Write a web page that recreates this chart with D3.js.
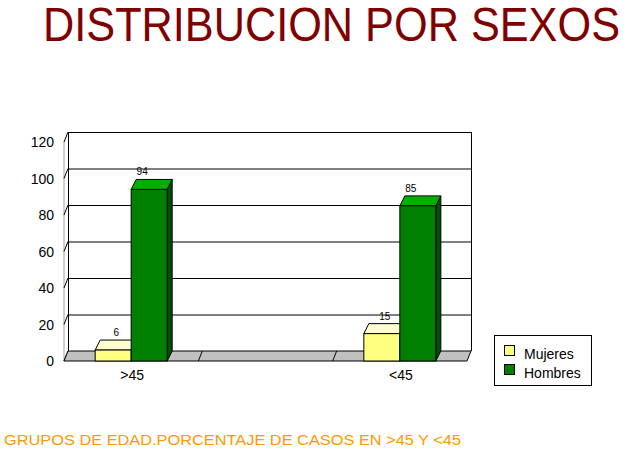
<!DOCTYPE html>
<html><head><meta charset="utf-8">
<script src="https://cdn.jsdelivr.net/npm/d3@7"></script>
<style>body{margin:0;background:#fff}svg{display:block}text{font-family:"Liberation Sans",Arial,sans-serif}</style>
</head><body>
<svg id="c" width="633" height="459"></svg>
<script>
const categories = [">45", "", "<45"];
const seriesNames = ["Mujeres", "Hombres"];
const mujeres = [6, null, 15];
const hombres = [94, null, 85];
const yTicks = [0, 20, 40, 60, 80, 100, 120];
const titleText = "DISTRIBUCION POR SEXOS";
const subtitleText = "GRUPOS DE EDAD.PORCENTAJE DE CASOS EN >45 Y <45";

const svg = d3.select("#c");
const colors = {
  Mujeres: {front: "#FFFF80", top: "#FFFFD0", side: "#C0C060"},
  Hombres: {front: "#008000", top: "#00B000", side: "#005000"}
};
const fdx = 4, fdy = 10;   // floor depth
const bdx = 5, bdy = 10;   // bar depth
const left = 64, right = 467, base = 361;

const y = d3.scaleLinear().domain([0, 120]).range([base, base - 219]);
const x = d3.scaleBand().domain(categories).range([left, right]).paddingInner(0.464).paddingOuter(0.232);
const x1 = d3.scaleBand().domain(seriesNames).range([0, x.bandwidth()]);
const step = x.step();

// title
svg.append("text").attr("x", 43).attr("y", 41).attr("font-size", 48).attr("fill", "#800000")
  .attr("textLength", 577).attr("lengthAdjust", "spacingAndGlyphs").text(titleText);

// left wall front edge (gray)
svg.append("line").attr("x1", left).attr("x2", left).attr("y1", y(120)).attr("y2", base)
  .attr("stroke", "#a0a0a0");

// back wall gridlines
const g = svg.append("g");
yTicks.forEach(t => {
  if (t > 0) {
    g.append("line").attr("x1", left + fdx).attr("x2", right + fdx)
      .attr("y1", y(t) - fdy + 0.5).attr("y2", y(t) - fdy + 0.5).attr("stroke", "#000");
  }
  g.append("line").attr("x1", left).attr("y1", y(t)).attr("x2", left + fdx).attr("y2", y(t) - fdy)
    .attr("stroke", "#000");
});
g.append("line").attr("x1", left + fdx + 0.5).attr("x2", left + fdx + 0.5)
  .attr("y1", y(120) - fdy).attr("y2", base - fdy).attr("stroke", "#000");
g.append("line").attr("x1", right + fdx + 0.5).attr("x2", right + fdx + 0.5)
  .attr("y1", y(120) - fdy).attr("y2", base - fdy).attr("stroke", "#000");

// floor
svg.append("path")
  .attr("d", `M${left},${base}L${right},${base}L${right + fdx},${base - fdy}L${left + fdx},${base - fdy}Z`)
  .attr("fill", "#c0c0c0").attr("stroke", "#000").attr("stroke-width", 1);
for (let i = 1; i < categories.length; i++) {
  const xx = left + i * step;
  svg.append("line").attr("x1", xx).attr("y1", base).attr("x2", xx + fdx).attr("y2", base - fdy)
    .attr("stroke", "#000");
}

// y axis labels
svg.append("g").selectAll("text").data(yTicks).join("text")
  .attr("x", 54).attr("y", d => y(d) + 5).attr("text-anchor", "end")
  .attr("font-size", 14).attr("fill", "#000").text(d => d);

// bars
const data = [];
categories.forEach((c, i) => {
  [["Mujeres", mujeres[i]], ["Hombres", hombres[i]]].forEach(([s, v]) => {
    if (v !== null) data.push({c, s, v});
  });
});
const bars = svg.append("g");
data.forEach(d => {
  const x0 = x(d.c) + x1(d.s), w = x1.bandwidth(), yt = y(d.v);
  const col = colors[d.s];
  bars.append("path").attr("d", `M${x0 + w},${base}L${x0 + w + bdx},${base - bdy}L${x0 + w + bdx},${yt - bdy}L${x0 + w},${yt}Z`)
    .attr("fill", col.side).attr("stroke", "#000");
  bars.append("path").attr("d", `M${x0},${yt}L${x0 + bdx},${yt - bdy}L${x0 + w + bdx},${yt - bdy}L${x0 + w},${yt}Z`)
    .attr("fill", col.top).attr("stroke", "#000");
  bars.append("rect").attr("x", x0).attr("y", yt).attr("width", w).attr("height", base - yt)
    .attr("fill", col.front).attr("stroke", "#000");
  const off = d.s === "Hombres" ? -7 : 3;
  bars.append("text").attr("x", x0 + w / 2 + off).attr("y", yt - bdy - 4)
    .attr("text-anchor", "middle").attr("font-size", 10).attr("fill", "#000").text(d.v);
});

// x labels
svg.append("g").selectAll("text").data(categories).join("text")
  .attr("x", d => x(d) + x.bandwidth() / 2 + 1).attr("y", base + 19).attr("text-anchor", "middle")
  .attr("font-size", 14).attr("fill", "#000").text(d => d);

// legend
const lg = svg.append("g");
lg.append("rect").attr("x", 494.5).attr("y", 335.5).attr("width", 97).attr("height", 50)
  .attr("fill", "#fff").attr("stroke", "#000");
seriesNames.forEach((s, i) => {
  lg.append("rect").attr("x", 504.5).attr("y", 345.5 + i * 19).attr("width", 10).attr("height", 10)
    .attr("fill", colors[s].front).attr("stroke", "#000");
  lg.append("text").attr("x", 524).attr("y", 359 + i * 19).attr("font-size", 14).attr("fill", "#000").text(s);
});

// subtitle
svg.append("text").attr("x", 4).attr("y", 445).attr("font-size", 14).attr("fill", "#FF9900")
  .attr("textLength", 457).attr("lengthAdjust", "spacingAndGlyphs").text(subtitleText);
</script>
</body></html>
